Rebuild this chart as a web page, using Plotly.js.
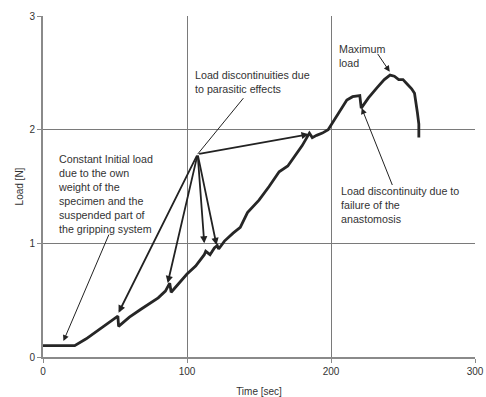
<!DOCTYPE html>
<html><head><meta charset="utf-8">
<script src="https://cdn.plot.ly/plotly-3.0.1.min.js"></script>
<style>html,body{margin:0;padding:0;background:#fff}#chart{width:486px;height:397px}</style>
</head><body><div id="chart"></div>
<script>
// Measured curve
const time = [0, 10, 22, 30, 40, 52, 52.5, 60, 68, 74, 80, 85, 88, 89, 95, 100, 106, 112, 113, 116, 119, 121, 122, 126, 132, 137, 142, 150, 157, 164, 170, 175, 180, 185, 187, 190, 194, 198, 201, 206, 211, 215, 218, 220, 221, 226, 232, 237, 241, 244, 247, 250, 253, 256, 258, 259, 260, 261, 261];
const load = [0.1, 0.1, 0.1, 0.16, 0.25, 0.36, 0.27, 0.35, 0.42, 0.47, 0.52, 0.58, 0.65, 0.57, 0.66, 0.73, 0.8, 0.9, 0.93, 0.9, 0.96, 0.98, 0.95, 1.02, 1.09, 1.14, 1.27, 1.38, 1.5, 1.63, 1.68, 1.77, 1.86, 1.97, 1.93, 1.95, 1.97, 2.0, 2.06, 2.16, 2.26, 2.29, 2.30, 2.30, 2.19, 2.28, 2.37, 2.44, 2.48, 2.47, 2.44, 2.44, 2.4, 2.36, 2.32, 2.25, 2.15, 2.05, 1.93];

const xTicks = [0, 100, 200, 300];
const yTicks = [0, 1, 2, 3];

// Annotation texts and anchor points (data units)
const noteTexts = [
  "Constant Initial load<br>due to the own<br>weight of the<br>specimen and the<br>suspended part of<br>the gripping system",
  "Load discontinuities due<br>to parasitic effects",
  "Maximum<br>load",
  "Load discontinuity due to<br>failure of the<br>anastomosis"
];
const noteX = [10, 105, 204.6, 206];
const noteY = [1.80, 2.54, 2.77, 1.52];

// Pointer arrows: tail -> head
const hub = [107.4, 1.785];
const hubTargetsX = [52.5, 86.6, 112, 120.5, 184.5];
const hubTargetsY = [0.39, 0.65, 1.0, 0.985, 1.96];
const thinArrowTailX = [46.2, 231.7, 243];
const thinArrowTailY = [1.09, 2.68, 1.50];
const thinArrowHeadX = [14.2, 240.8, 221.3];
const thinArrowHeadY = [0.14, 2.51, 2.19];
const leaderTail = [140, 2.29];

const font = {family: "Liberation Sans, Arial, sans-serif", size: 10, color: "#333"};
const noteFont = {family: "Liberation Sans, Arial, sans-serif", size: 10.7, color: "#333"};
const anns = [];
noteTexts.forEach((t, i) => anns.push({
  x: noteX[i], y: noteY[i], xref: 'x', yref: 'y', text: t, showarrow: false,
  xanchor: 'left', yanchor: 'top', align: 'left', font: noteFont, borderpad: 0
}));
hubTargetsX.forEach((tx, i) => anns.push({
  x: tx, y: hubTargetsY[i], ax: hub[0], ay: hub[1], xref: 'x', yref: 'y', axref: 'x', ayref: 'y',
  text: '', showarrow: true, arrowhead: 2, arrowsize: 0.8, arrowwidth: 1.8, arrowcolor: '#222', standoff: 0
}));
thinArrowTailX.forEach((tx, i) => anns.push({
  x: thinArrowHeadX[i], y: thinArrowHeadY[i], ax: tx, ay: thinArrowTailY[i], xref: 'x', yref: 'y', axref: 'x', ayref: 'y',
  text: '', showarrow: true, arrowhead: 2, arrowsize: 1.2, arrowwidth: 1, arrowcolor: '#222', standoff: 0
}));
anns.push({
  x: hub[0], y: hub[1], ax: leaderTail[0], ay: leaderTail[1], xref: 'x', yref: 'y', axref: 'x', ayref: 'y',
  text: '', showarrow: true, arrowhead: 0, arrowwidth: 1, arrowcolor: '#222'
});

const data = [
  {x: time, y: load, type: 'scatter', mode: 'lines', line: {color: '#262626', width: 2.8}, hoverinfo: 'skip'},
  {x: [0], y: [0], xaxis: 'x2', type: 'scatter', mode: 'none', showlegend: false, hoverinfo: 'skip'}
];

const layout = {
  width: 486, height: 397, showlegend: false,
  paper_bgcolor: '#fff', plot_bgcolor: '#fff',
  margin: {l: 43, r: 11, t: 16, b: 40},
  font: font,
  xaxis: {range: [0, 300], tickvals: xTicks, ticktext: xTicks.map(String), showgrid: false, zeroline: false,
    showline: true, linecolor: '#8a8a8a', linewidth: 2, ticks: 'outside', ticklen: 4, tickcolor: '#8a8a8a',
    tickfont: font, title: {text: 'Time [sec]', font: font, standoff: 12}},
  xaxis2: {range: [0, 300], overlaying: 'x', tickvals: [100, 200], showticklabels: false, showgrid: true,
    gridcolor: '#7a7a7a', gridwidth: 1, zeroline: false, showline: false, ticks: ''},
  yaxis: {range: [0, 3], tickvals: yTicks, showgrid: true, gridcolor: '#7a7a7a', gridwidth: 1, zeroline: false,
    showline: true, linecolor: '#8a8a8a', linewidth: 2, ticks: 'outside', ticklen: 4, tickcolor: '#8a8a8a',
    tickfont: font, title: {text: 'Load [N]', font: font, standoff: 4}},
  annotations: anns
};
Plotly.newPlot('chart', data, layout, {staticPlot: true, displayModeBar: false});
</script></body></html>
